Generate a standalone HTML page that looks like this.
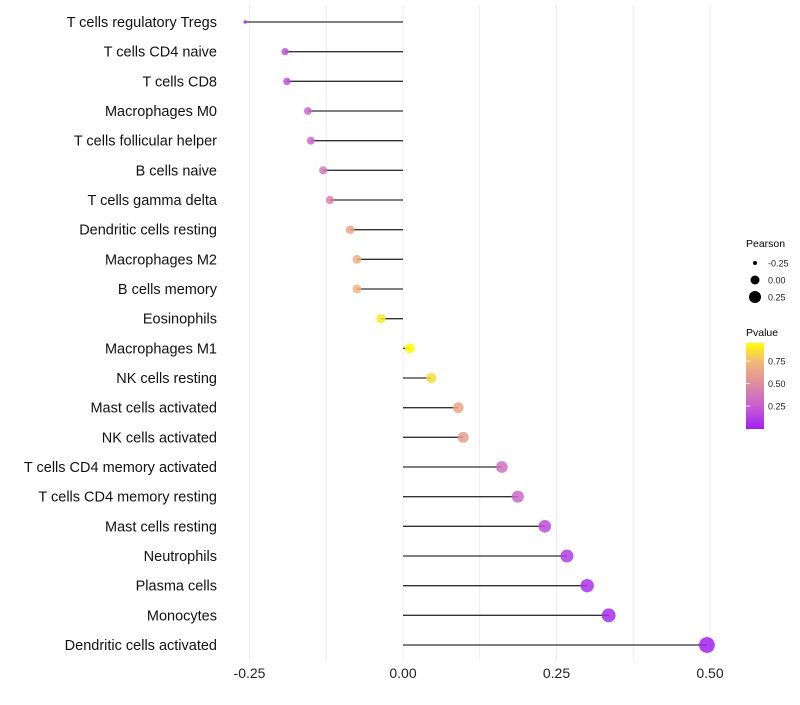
<!DOCTYPE html>
<html><head><meta charset="utf-8"><style>
body{margin:0;background:#fff;font-family:"Liberation Sans",sans-serif}
svg text{font-family:"Liberation Sans",sans-serif}
</style></head><body>
<svg id="chart" width="800" height="700">
<defs><linearGradient id="pg" x1="0" y1="1" x2="0" y2="0">
<stop offset="0" stop-color="#a020f0"/><stop offset="0.27" stop-color="#c860d0"/><stop offset="0.52" stop-color="#dc8ca0"/><stop offset="0.78" stop-color="#f2b87a"/><stop offset="1" stop-color="#ffff00"/>
</linearGradient></defs>
<g id="grid"></g>
<g id="marks"></g>
<g id="labels"></g>
<g id="xt"></g>
<g>
<text x="746" y="247" font-size="10.5">Pearson</text>
<g id="sizeleg"></g>
<text x="746" y="336" font-size="10.5">Pvalue</text>
<rect x="746" y="343" width="18" height="86" fill="url(#pg)"/>
<g id="colleg"></g>
</g>
</svg>
<script>
const categories=["T cells regulatory  Tregs","T cells CD4 naive","T cells CD8","Macrophages M0","T cells follicular helper","B cells naive","T cells gamma delta","Dendritic cells resting","Macrophages M2","B cells memory","Eosinophils","Macrophages M1","NK cells resting","Mast cells activated","NK cells activated","T cells CD4 memory activated","T cells CD4 memory resting","Mast cells resting","Neutrophils","Plasma cells","Monocytes","Dendritic cells activated"];
const pearson=[-0.257,-0.192,-0.189,-0.155,-0.150,-0.130,-0.119,-0.086,-0.075,-0.075,-0.036,0.011,0.046,0.090,0.098,0.161,0.187,0.231,0.267,0.300,0.335,0.495];
const pvalues=[0.05,0.2,0.2,0.3,0.3,0.4,0.45,0.65,0.7,0.72,0.88,0.95,0.85,0.65,0.6,0.35,0.3,0.18,0.12,0.08,0.05,0.01];
const xTicks=[-0.25,0,0.25,0.5];
const xTickLabels=["-0.25","0.00","0.25","0.50"];
const sizeLegend=[-0.25,0,0.25];
const colorLegend=[0.25,0.5,0.75];
const NS="http://www.w3.org/2000/svg";
const X=v=>403+v*614;
const Y=i=>22+i*(623/21);
const R=v=>v<-0.19?Math.max(1.8,1.8+(v+0.257)*(1.9/0.067)):3.7+4.2*(v+0.19)/0.685;
const PY=p=>428-(p-0.006)*90;
const stops=[[0,[160,32,240]],[0.27,[200,96,208]],[0.52,[220,140,160]],[0.78,[242,184,122]],[1,[255,255,0]]];
function col(p){const t=Math.min(1,Math.max(0,(p-0.006)/0.944));for(let k=1;k<stops.length;k++){if(t<=stops[k][0]){const a=stops[k-1],b=stops[k],f=(t-a[0])/(b[0]-a[0]);return "rgb("+a[1].map((c,j)=>Math.round(c+(b[1][j]-c)*f)).join(",")+")";}}return "rgb(255,255,0)";}
function mk(t,at,par){const e=document.createElementNS(NS,t);for(const k in at)e.setAttribute(k,at[k]);document.getElementById(par).appendChild(e);return e;}
for(let v=-0.25;v<=0.5001;v+=0.125){const g=mk("line",{x1:X(v),x2:X(v),y1:5,y2:660,stroke:"#ececec","stroke-width":1},"grid");

}
xTicks.forEach((v,i)=>{const t=mk("text",{x:X(v),y:678,"font-size":14,"text-anchor":"middle",fill:"#222"},"xt");t.textContent=xTickLabels[i];

});
categories.forEach((c,i)=>{const y=Y(i);
const t=mk("text",{x:217,y:y+5,"font-size":14.5,"text-anchor":"end",fill:"#111"},"labels");t.textContent=c;


const l=mk("line",{x1:403,x2:X(pearson[i]),y1:y,y2:y,stroke:"#333","stroke-width":1.3},"marks");


const d=mk("circle",{cx:X(pearson[i]),cy:y,r:R(pearson[i]),fill:col(pvalues[i]),"fill-opacity":0.85},"marks");

});
sizeLegend.forEach((v,i)=>{const y=263+i*17;const d=mk("circle",{cx:755,cy:y,r:[2,4.5,6][i],fill:"#000"},"sizeleg");


const t=mk("text",{x:768,y:y+3.5,"font-size":9,fill:"#222"},"sizeleg");t.textContent=v.toFixed(2);

});
colorLegend.forEach(v=>{const y=PY(v);const t=mk("text",{x:768,y:y+3.5,"font-size":9,fill:"#222"},"colleg");t.textContent=v.toFixed(2);


const l=mk("line",{x1:746,x2:750,y1:y,y2:y,stroke:"#fff","stroke-width":0.8},"colleg");

});
</script>
</body></html>
